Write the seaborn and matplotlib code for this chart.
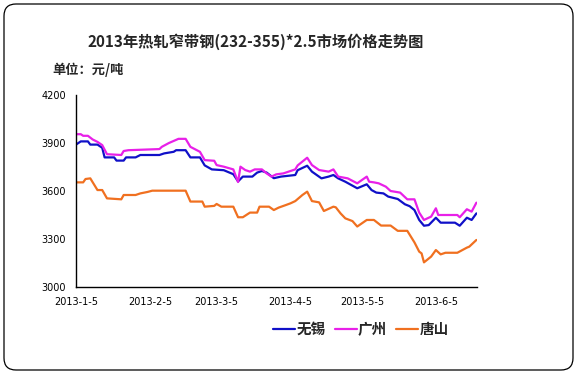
import seaborn as sns
import matplotlib
matplotlib.use("Agg")
from matplotlib import pyplot as plt
from matplotlib.patches import FancyBboxPatch
import pandas as pd

sns.set_style("white")
plt.rcParams['font.family'] = ['Noto Sans CJK SC', 'DejaVu Sans']

# 无锡
wuxi_dates = ["2013-01-05", "2013-01-07", "2013-01-10", "2013-01-11", "2013-01-14", "2013-01-16",
              "2013-01-17", "2013-01-21", "2013-01-22", "2013-01-25", "2013-01-26", "2013-01-30",
              "2013-02-01", "2013-02-09", "2013-02-11", "2013-02-15", "2013-02-16", "2013-02-20",
              "2013-02-22", "2013-02-26", "2013-02-28", "2013-03-03", "2013-03-08", "2013-03-12",
              "2013-03-14", "2013-03-16", "2013-03-20", "2013-03-22", "2013-03-24", "2013-03-26",
              "2013-03-29", "2013-04-01", "2013-04-04", "2013-04-07", "2013-04-08", "2013-04-12",
              "2013-04-14", "2013-04-18", "2013-04-21", "2013-04-23", "2013-04-25", "2013-04-28",
              "2013-05-03", "2013-05-07", "2013-05-09", "2013-05-11", "2013-05-14", "2013-05-16",
              "2013-05-20", "2013-05-23", "2013-05-25", "2013-05-27", "2013-05-29", "2013-05-31",
              "2013-06-02", "2013-06-05", "2013-06-07", "2013-06-13", "2013-06-15", "2013-06-18",
              "2013-06-20", "2013-06-22"]
wuxi_price = [3890, 3910, 3910, 3890, 3890, 3870,
              3810, 3810, 3790, 3790, 3810, 3810,
              3825, 3825, 3835, 3845, 3855, 3855,
              3810, 3810, 3760, 3735, 3730, 3705,
              3660, 3690, 3690, 3715, 3725, 3715,
              3680, 3690, 3695, 3700, 3730, 3758,
              3721, 3679, 3690, 3700, 3679, 3658,
              3617, 3642, 3606, 3590, 3585, 3565,
              3550, 3517, 3505, 3481, 3419, 3383,
              3387, 3433, 3402, 3402, 3383, 3433,
              3419, 3460]

# 广州
gz_dates = ["2013-01-05", "2013-01-07", "2013-01-08", "2013-01-10", "2013-01-12", "2013-01-14",
            "2013-01-16", "2013-01-18", "2013-01-24", "2013-01-25", "2013-01-27", "2013-02-09",
            "2013-02-10", "2013-02-13", "2013-02-17", "2013-02-20", "2013-02-22", "2013-02-26",
            "2013-02-28", "2013-03-04", "2013-03-05", "2013-03-08", "2013-03-12", "2013-03-14",
            "2013-03-15", "2013-03-17", "2013-03-19", "2013-03-21", "2013-03-24", "2013-03-26",
            "2013-03-28", "2013-03-30", "2013-04-02", "2013-04-07", "2013-04-08", "2013-04-12",
            "2013-04-14", "2013-04-17", "2013-04-21", "2013-04-23", "2013-04-25", "2013-04-29",
            "2013-05-03", "2013-05-07", "2013-05-08", "2013-05-10", "2013-05-12", "2013-05-15",
            "2013-05-17", "2013-05-21", "2013-05-24", "2013-05-27", "2013-05-29", "2013-05-31",
            "2013-06-03", "2013-06-05", "2013-06-06", "2013-06-14", "2013-06-15", "2013-06-18",
            "2013-06-20", "2013-06-22"]
gz_price = [3955, 3955, 3945, 3945, 3922, 3907,
            3887, 3830, 3825, 3850, 3855, 3862,
            3876, 3900, 3926, 3926, 3876, 3845,
            3793, 3789, 3762, 3752, 3735, 3656,
            3752, 3731, 3721, 3735, 3735, 3710,
            3690, 3704, 3710, 3735, 3760, 3808,
            3762, 3731, 3721, 3735, 3690, 3679,
            3648, 3690, 3658, 3654, 3648, 3627,
            3600, 3590, 3548, 3548, 3465, 3419,
            3440, 3492, 3450, 3450, 3436, 3486,
            3471, 3527]

# 唐山
ts_dates = ["2013-01-05", "2013-01-08", "2013-01-09", "2013-01-11", "2013-01-14", "2013-01-16",
            "2013-01-18", "2013-01-24", "2013-01-25", "2013-01-30", "2013-02-01", "2013-02-04",
            "2013-02-06", "2013-02-20", "2013-02-22", "2013-02-27", "2013-02-28", "2013-03-04",
            "2013-03-05", "2013-03-07", "2013-03-12", "2013-03-14", "2013-03-16", "2013-03-19",
            "2013-03-22", "2013-03-23", "2013-03-27", "2013-03-29", "2013-03-31", "2013-04-03",
            "2013-04-05", "2013-04-07", "2013-04-10", "2013-04-12", "2013-04-14", "2013-04-17",
            "2013-04-19", "2013-04-23", "2013-04-24", "2013-04-26", "2013-04-28", "2013-05-01",
            "2013-05-03", "2013-05-07", "2013-05-10", "2013-05-13", "2013-05-17", "2013-05-20",
            "2013-05-24", "2013-05-27", "2013-05-29", "2013-05-30", "2013-05-31", "2013-06-03",
            "2013-06-05", "2013-06-07", "2013-06-09", "2013-06-14", "2013-06-18", "2013-06-19",
            "2013-06-22"]
ts_price = [3654, 3654, 3675, 3679, 3606, 3606,
            3554, 3548, 3575, 3575, 3585, 3594,
            3602, 3602, 3534, 3534, 3502, 3507,
            3519, 3502, 3502, 3436, 3436, 3465,
            3465, 3502, 3502, 3481, 3496, 3512,
            3523, 3537, 3575, 3596, 3537, 3529,
            3475, 3502, 3498, 3460, 3429, 3412,
            3378, 3419, 3419, 3384, 3384, 3351,
            3351, 3279, 3221, 3210, 3154, 3190,
            3231, 3204, 3214, 3214, 3246, 3252,
            3294]

cities = ["无锡", "广州", "唐山"]
colors = {"无锡": "#1010C8", "广州": "#E820E8", "唐山": "#F07020"}

tick_dates = ["2013-01-05", "2013-02-05", "2013-03-05", "2013-04-05", "2013-05-05", "2013-06-05"]
tick_labels = ["2013-1-5", "2013-2-5", "2013-3-5", "2013-4-5", "2013-5-5", "2013-6-5"]
y_ticks = [3000, 3300, 3600, 3900, 4200]

df = pd.concat([
    pd.DataFrame({"date": pd.to_datetime(wuxi_dates), "price": wuxi_price, "city": "无锡"}),
    pd.DataFrame({"date": pd.to_datetime(gz_dates), "price": gz_price, "city": "广州"}),
    pd.DataFrame({"date": pd.to_datetime(ts_dates), "price": ts_price, "city": "唐山"}),
])

W, H = 578, 384
fig = plt.figure(figsize=(W / 100, H / 100), dpi=100)

# rounded outer frame
bg = fig.add_axes([0, 0, 1, 1])
bg.set_xlim(0, W)
bg.set_ylim(H, 0)
bg.axis("off")
bg.add_patch(FancyBboxPatch((4, 4), 569, 366, boxstyle="round,pad=0,rounding_size=12",
                            fill=False, edgecolor="black", linewidth=0.9))

ax = fig.add_axes([76 / W, 1 - 287 / H, (477 - 76) / W, (287 - 95) / H])
ax.patch.set_alpha(0)
sns.lineplot(data=df, x="date", y="price", hue="city", hue_order=cities,
             palette=colors, linewidth=1.6, ax=ax)

ax.set_xlim(pd.Timestamp("2013-01-05"), pd.Timestamp("2013-06-22 06:00"))
ax.set_ylim(3000, 4200)
ax.set_xticks(pd.to_datetime(tick_dates))
ax.set_xticklabels(tick_labels)
ax.set_yticks(y_ticks)
ax.set_xlabel("")
ax.set_ylabel("")
for s in ["top", "right"]:
    ax.spines[s].set_visible(False)
for s in ["left", "bottom"]:
    ax.spines[s].set_color("black")
    ax.spines[s].set_linewidth(1.0)
ax.tick_params(direction="in", length=4, width=0.8, color="black",
               labelsize=7, labelcolor="black", pad=7)
for lab in ax.get_xticklabels() + ax.get_yticklabels():
    lab.set_family("DejaVu Sans")

handles, labels = ax.get_legend_handles_labels()
ax.get_legend().remove()
fig.legend(handles, labels, loc="center", bbox_to_anchor=(361 / W, 1 - 329 / H),
           ncol=3, frameon=False, handlelength=1.5, handletextpad=0.1,
           columnspacing=0.6, prop={"size": 10.5, "weight": "bold"})

fig.text(256 / W, 1 - 42 / H, "2013年热轧窄带钢(232-355)*2.5市场价格走势图",
         ha="center", va="center", fontsize=11, fontweight="bold")
fig.text(52 / W, 1 - 70 / H, "单位：元/吨", ha="left", va="center",
         fontsize=9.5, fontweight="bold")

fig.savefig("out.png", dpi=100)
